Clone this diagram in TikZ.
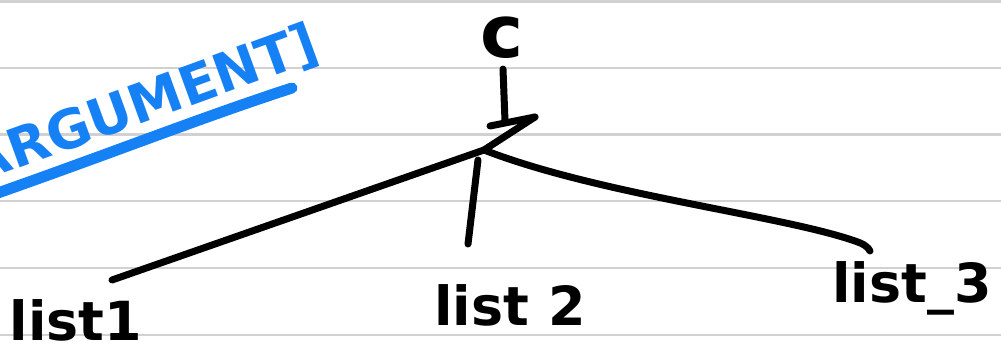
\documentclass[tikz,border=0pt]{standalone}
\usepackage{fontspec}
\setsansfont{DejaVu Sans}
\usetikzlibrary{positioning}
\definecolor{penblue}{RGB}{22,128,245}

\begin{document}
\begin{tikzpicture}[x=0.3mm, y=-0.3mm,
    ink/.style={line width=2.1mm, line cap=round, line join=round},
    hand/.style={font=\sffamily\bfseries\fontsize{46}{46}\selectfont, inner sep=0pt},
    rule/.style={draw=black!18, line width=0.7mm}]
  \useasboundingbox (0,0) rectangle (1001,361);
  \clip (0,0) rectangle (1001,361);
  % ruled paper
  \foreach \y in {1.5,68,134.5,201,268,335}
    \draw[rule] (0,\y) -- (1001,\y);

  % blue heading, cut by the page edge
  \node[hand, penblue, rotate=20, anchor=base east] (arg) at (322,58) {ARGUMENT]};
  \coordinate (ul1) at (-5,194);
  \coordinate (ul2) at (292,88);
  \draw[penblue, line width=3.3mm, line cap=round]
    (ul1) .. controls (120,150) and (200,118) .. (ul2);

  % tree
  \node[hand, font=\sffamily\bfseries\fontsize{62}{62}\selectfont] (c) at (502,38) {c};
  \node[hand] (l1) at (76,320) {list1};
  \node[hand] (l2) at (510,305) {list 2};
  \node[hand] (l3) at (912,288) {list\_3};

  \coordinate (bar) at (505,121);
  \coordinate (xl) at (490,126);
  \coordinate (xr) at (535,117);
  \coordinate (j) at (484,150);
  \coordinate (m) at (478,160);
  \coordinate (e1) at (112,280);
  \coordinate (e2) at (468,244);
  \coordinate (e3) at (870,251);

  \draw[ink] ([shift={(1,10)}]c.south) -- (bar);
  \draw[ink] (xl) -- (xr);
  \draw[ink] (xr) -- (j) -- (e1);
  \draw[ink] (m) -- (e2);
  \draw[ink] (j) .. controls (600,195) and (780,215) .. (855,241)
    .. controls (864,244) and (868,247) .. (e3);
\end{tikzpicture}
\end{document}
